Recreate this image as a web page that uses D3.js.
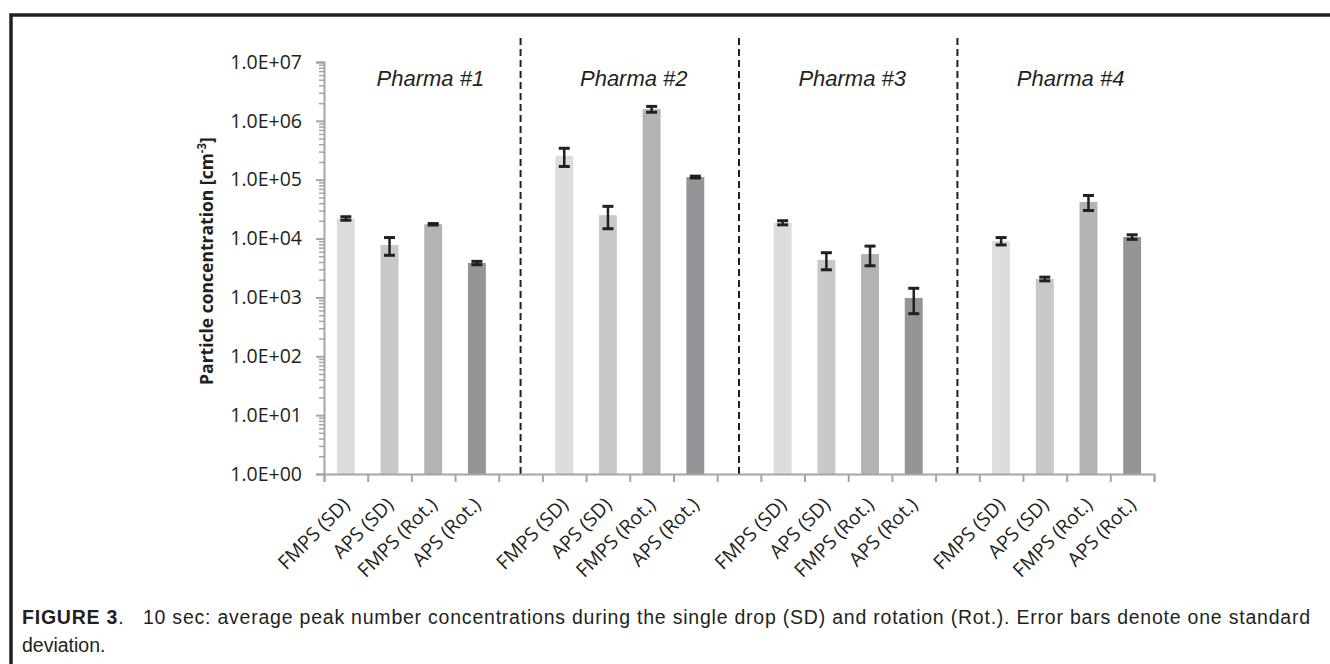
<!DOCTYPE html>
<html lang="en">
<head>
    <meta charset="UTF-8">
    <title>Figure 3: peak number concentrations</title>
    <script src="https://d3js.org/d3.v7.min.js"></script>
    <style>
        body {
            margin: 0;
            background-color: #fff;
        }
        svg {
            display: block;
        }
        .axis path,
        .axis line {
            stroke: #a3a5a8;
        }
        .axis text {
            fill: #231f20;
            font-family: "Open Sans", sans-serif;
            font-size: 19.5px;
        }
        .cat-label {
            fill: #231f20;
            font-family: "Open Sans", sans-serif;
            font-size: 19.5px;
        }
        .group-label {
            fill: #231f20;
            font-family: "Liberation Sans", Arial, sans-serif;
            font-style: italic;
            font-size: 22px;
        }
        .caption {
            fill: #231f20;
            font-family: "Liberation Sans Narrow", "Arial Narrow", "Liberation Sans", sans-serif;
            font-size: 19.5px;
        }
    </style>
</head>
<body>
    <svg width="1330" height="664"></svg>

    <script>
        // Data
        const groups = ["Pharma #1", "Pharma #2", "Pharma #3", "Pharma #4"];
        const methods = ["FMPS (SD)", "APS (SD)", "FMPS (Rot.)", "APS (Rot.)"];
        const colors = ["#dcdddf", "#c7c8ca", "#b1b3b4", "#939598"];

        const pharma1 = [22000, 7800, 17500, 3850];
        const pharma1Sd = [1500, 2600, 500, 250];
        const pharma2 = [255000, 25000, 1580000, 111000];
        const pharma2Sd = [87000, 10300, 180000, 4000];
        const pharma3 = [18600, 4350, 5450, 980];
        const pharma3Sd = [1500, 1400, 2000, 450];
        const pharma4 = [9100, 2060, 42000, 10650];
        const pharma4Sd = [1300, 150, 12000, 950];

        const yTicks = [1e0, 1e1, 1e2, 1e3, 1e4, 1e5, 1e6, 1e7];

        const captionBold = "FIGURE 3";
        const captionLine1 = ".   10 sec: average peak number concentrations during the single drop (SD) and rotation (Rot.). Error bars denote one standard";
        const captionLine2 = "deviation.";

        const means = [pharma1, pharma2, pharma3, pharma4];
        const sds = [pharma1Sd, pharma2Sd, pharma3Sd, pharma4Sd];

        // one empty slot between groups
        const rows = [];
        groups.forEach((g, gi) => {
            methods.forEach((m, mi) => {
                rows.push({ group: g, method: m, slot: gi * 5 + mi, value: means[gi][mi], sd: sds[gi][mi], color: colors[mi] });
            });
        });
        const nSlots = groups.length * 5 - 1;

        const svg = d3.select("svg");
        const plotLeft = 324, plotRight = 1154, plotTop = 62, plotBottom = 474;

        const x = d3.scaleBand().domain(d3.range(nSlots)).range([plotLeft, plotRight])
            .paddingInner(0.59).paddingOuter(0.295);
        const xEdge = d3.scaleLinear().domain([0, nSlots]).range([plotLeft, plotRight]);
        const y = d3.scaleLog().domain([1, 1e7]).range([plotBottom, plotTop]);

        // frame of the figure
        svg.append("path")
            .attr("d", "M11,664V15H1330")
            .attr("fill", "none")
            .attr("stroke", "#231f20")
            .attr("stroke-width", 3.5);

        // separators between the pharma groups
        svg.selectAll(".sep").data(groups.slice(1)).enter()
            .append("line")
            .attr("class", "sep")
            .attr("x1", (d, i) => xEdge((i + 1) * 5 - 0.5))
            .attr("x2", (d, i) => xEdge((i + 1) * 5 - 0.5))
            .attr("y1", 38)
            .attr("y2", plotBottom)
            .attr("stroke", "#231f20")
            .attr("stroke-width", 2)
            .attr("stroke-dasharray", "7,4");

        // bars
        svg.selectAll(".bar").data(rows).enter()
            .append("rect")
            .attr("class", "bar")
            .attr("x", d => x(d.slot))
            .attr("width", x.bandwidth())
            .attr("y", d => y(d.value))
            .attr("height", d => plotBottom - y(d.value))
            .attr("fill", d => d.color);

        // error bars
        const err = svg.selectAll(".err").data(rows).enter()
            .append("g").attr("class", "err")
            .attr("stroke", "#231f20")
            .attr("stroke-width", 2.5);
        const cx = d => x(d.slot) + x.bandwidth() / 2;
        err.append("line")
            .attr("x1", cx).attr("x2", cx)
            .attr("y1", d => y(d.value + d.sd))
            .attr("y2", d => y(d.value - d.sd));
        err.append("line")
            .attr("x1", d => cx(d) - 5.5).attr("x2", d => cx(d) + 5.5)
            .attr("y1", d => y(d.value + d.sd)).attr("y2", d => y(d.value + d.sd))
            .attr("stroke-width", 3);
        err.append("line")
            .attr("x1", d => cx(d) - 5.5).attr("x2", d => cx(d) + 5.5)
            .attr("y1", d => y(d.value - d.sd)).attr("y2", d => y(d.value - d.sd))
            .attr("stroke-width", 3);

        // y axis: minor ticks then major ticks with labels
        const minor = [];
        yTicks.slice(0, -1).forEach(t => { for (let k = 2; k <= 9; k++) minor.push(t * k); });
        svg.append("g").attr("class", "axis")
            .attr("transform", `translate(${plotLeft},0)`)
            .call(d3.axisLeft(y).tickValues(minor).tickSize(5).tickFormat(""))
            .call(g => g.select(".domain").remove())
            .selectAll("line").attr("stroke-width", 1.5);
        const yAxis = svg.append("g").attr("class", "axis")
            .attr("transform", `translate(${plotLeft},0)`)
            .call(d3.axisLeft(y).tickValues(yTicks).tickSizeOuter(0).tickSize(8).tickPadding(14)
                .tickFormat(d => "1.0E+" + String(Math.round(Math.log10(d))).padStart(2, "0")));
        yAxis.select(".domain").attr("stroke-width", 2);
        yAxis.selectAll("line").attr("stroke-width", 2);

        // x axis with ticks at slot edges
        const xAxis = svg.append("g").attr("class", "axis")
            .attr("transform", `translate(0,${plotBottom})`)
            .call(d3.axisBottom(xEdge).tickValues(d3.range(nSlots + 1)).tickSizeOuter(0).tickSize(8).tickFormat(""));
        xAxis.select(".domain").attr("stroke-width", 2);
        xAxis.selectAll("line").attr("stroke-width", 2);

        // rotated category labels
        svg.selectAll(".cat-label").data(rows).enter()
            .append("text")
            .attr("class", "cat-label")
            .attr("text-anchor", "end")
            .attr("transform", d => `translate(${cx(d) + 5},${plotBottom + 32}) rotate(-45)`)
            .text(d => d.method);

        // group titles
        svg.selectAll(".group-label").data(groups).enter()
            .append("text")
            .attr("class", "group-label")
            .attr("text-anchor", "middle")
            .attr("x", (d, i) => xEdge(i * 5 + 2) + (i === 0 ? 19 : 4))
            .attr("y", 86)
            .text(d => d);

        // y axis title
        const yTitle = svg.append("text")
            .attr("transform", `translate(213,261) rotate(-90)`)
            .attr("text-anchor", "middle")
            .style("font-family", "'Open Sans', sans-serif")
            .style("font-weight", "bold")
            .style("font-size", "17.5px")
            .style("fill", "#231f20");
        yTitle.append("tspan").text("Particle concentration [cm");
        yTitle.append("tspan").attr("dy", -7).style("font-size", "11.5px").text("-3");
        yTitle.append("tspan").attr("dy", 7).text("]");

        // caption, first line stretched to the width of the figure
        const cap1 = svg.append("text").attr("class", "caption").attr("x", 22).attr("y", 624);
        cap1.append("tspan").style("font-weight", "bold").text(captionBold);
        cap1.append("tspan").style("white-space", "pre").text(captionLine1);
        const capText = captionBold + captionLine1;
        const natural = cap1.node().getComputedTextLength();
        cap1.style("letter-spacing", ((1288 - natural) / (capText.length - 1)) + "px");
        svg.append("text").attr("class", "caption").attr("x", 22).attr("y", 652).text(captionLine2);
    </script>
</body>
</html>
